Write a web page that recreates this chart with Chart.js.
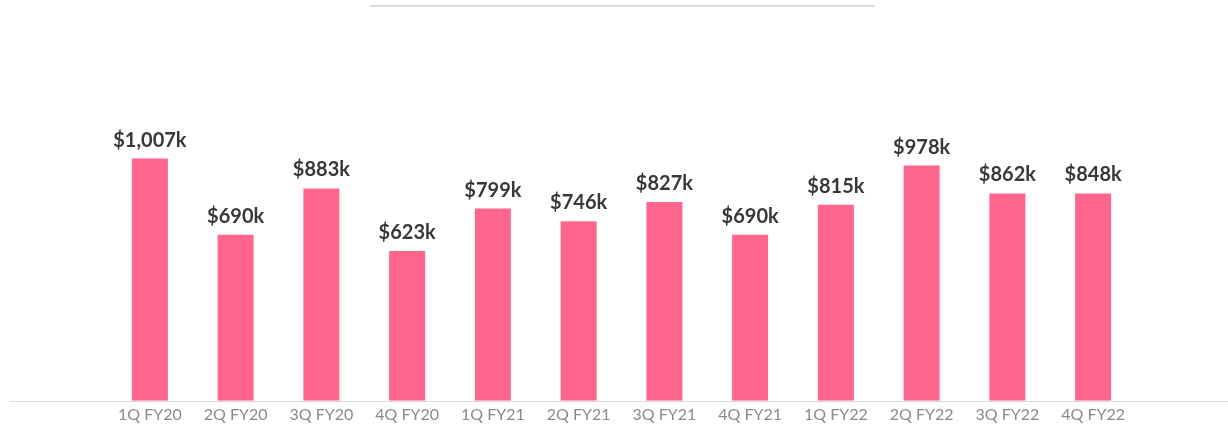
<!DOCTYPE html>
<html>
<head>
<meta charset="utf-8">
<script src="https://cdn.jsdelivr.net/npm/chart.js@4/dist/chart.umd.min.js"></script>
<style>
  html, body { margin: 0; padding: 0; background: #fff; }
  #wrap { width: 1228px; height: 426px; position: relative; }
</style>
</head>
<body>
<div id="wrap"><canvas id="c" width="1228" height="426"></canvas></div>
<script>
const categories = ["1Q FY20","2Q FY20","3Q FY20","4Q FY20","1Q FY21","2Q FY21","3Q FY21","4Q FY21","1Q FY22","2Q FY22","3Q FY22","4Q FY22"];
// bar heights (thousands of $)
const barValues = [1007, 690, 883, 623, 799, 746, 827, 690, 815, 978, 862, 862];
// value labels printed above the bars
const valueLabels = ["$1,007k","$690k","$883k","$623k","$799k","$746k","$827k","$690k","$815k","$978k","$862k","$848k"];

const decor = {
  id: 'decor',
  afterDatasetsDraw(chart) {
    const ctx = chart.ctx;
    const meta = chart.getDatasetMeta(0);
    ctx.save();
    ctx.font = 'bold 20px Lato';
    ctx.fillStyle = '#383838';
    ctx.textAlign = 'center';
    ctx.textBaseline = 'alphabetic';
    meta.data.forEach((bar, i) => {
      ctx.fillText(valueLabels[i], bar.x, bar.y - 12);
    });
    // baseline
    const y0 = Math.round(chart.scales.y.getPixelForValue(0)) + 0.5;
    ctx.strokeStyle = '#d9d9d9';
    ctx.lineWidth = 1;
    ctx.beginPath();
    ctx.moveTo(10, y0);
    ctx.lineTo(1228, y0);
    ctx.stroke();
    // top rule
    ctx.strokeStyle = '#cfcfcf';
    ctx.lineWidth = 1.5;
    ctx.beginPath();
    ctx.moveTo(370, 6);
    ctx.lineTo(875, 6);
    ctx.stroke();
    ctx.restore();
  }
};

new Chart(document.getElementById('c'), {
  type: 'bar',
  data: {
    labels: categories,
    datasets: [{
      data: barValues,
      backgroundColor: '#FF668D',
      borderWidth: 0,
      categoryPercentage: 1,
      barPercentage: 0.42
    }]
  },
  options: {
    responsive: false,
    animation: false,
    layout: { padding: { top: 40, left: 107, right: 92, bottom: -2 } },
    plugins: { legend: { display: false }, tooltip: { enabled: false } },
    scales: {
      x: {
        grid: { display: false, drawTicks: false },
        border: { display: false },
        ticks: { color: '#8a8a8a', font: { family: 'Lato', size: 16 }, padding: 4, maxRotation: 0 }
      },
      y: {
        display: false,
        min: 0,
        max: 1500
      }
    }
  },
  plugins: [decor]
});
</script>
</body>
</html>
